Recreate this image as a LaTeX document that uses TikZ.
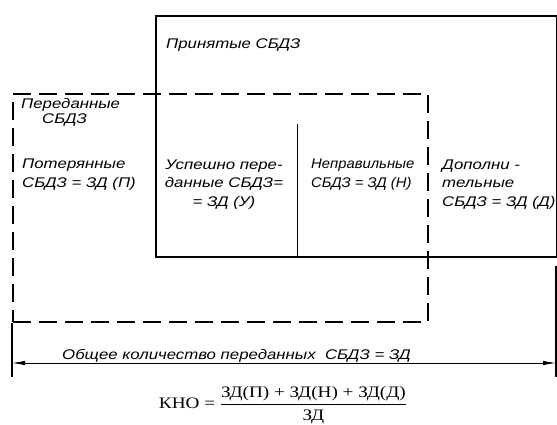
\documentclass[tikz,border=0pt]{standalone}
\usepackage{fontspec}
\usepackage{amsmath}
\usetikzlibrary{arrows.meta,positioning,calc}
\setmainfont{Liberation Serif}
\newfontfamily\gostfont[FakeStretch=1.2]{Liberation Sans}
\newfontfamily\gostuzkij[FakeStretch=1.06]{Liberation Sans}
\newfontfamily\formulafont[FakeStretch=1.2]{Liberation Serif}
\tikzset{
  prinbox/.style={draw, line width=1.5pt, inner sep=0pt, anchor=north west},
  peredbox/.style={draw, line width=1.5pt, inner sep=0pt, anchor=north west,
    dash pattern=on 18pt off 8pt},
  razdel/.style={line width=0.9pt},
  vynos/.style={line width=1.2pt},
  razmer/.style={{Latex[length=13pt, width=4.5pt]}-{Latex[length=13pt, width=4.5pt]}, line width=0.8pt},
  nadpis/.style={font=\gostfont\itshape\fontsize{14}{18.5}\selectfont,
    inner sep=0pt, anchor=base west, align=left},
  nadpisuzk/.style={nadpis, font=\gostuzkij\itshape\fontsize{14}{18.5}\selectfont},
  formula/.style={font=\formulafont\fontsize{16}{19}\selectfont, inner sep=0pt},
}
\begin{document}
\begin{tikzpicture}[x=1pt, y=-1pt]
  \useasboundingbox (0,0) rectangle (557,424);
  % ---- mnozhestva ----
  \node[prinbox, minimum width=401pt, minimum height=241pt] (prin) at (155,15) {};
  \node[peredbox, minimum width=415pt, minimum height=228pt] (pered) at (12,93) {};
  \coordinate (d1) at (297,124);
  \draw[razdel] (d1) -- (d1 |- prin.south);

  % ---- razmernaja linija ----
  \coordinate (vl) at (12,377);
  \coordinate (vr0) at (556,266);
  \coordinate (vr) at (556,377);
  \draw[vynos] (pered.south west) -- (vl);
  \draw[vynos] (vr0) -- (vr);
  \coordinate (dl) at (12,363);
  \coordinate (dr) at (556,363);
  \draw[razmer] (dl) -- (dr);

  % ---- nadpisi (base = poslednjaja stroka) ----
  \node[nadpis] (prinlbl) at (166,48) {Принятые СБДЗ};
  \node[nadpis] (peredlbl) at (21,123) {Переданные\\[-3.5pt]\hspace{21pt}СБДЗ};
  \node[nadpis] (poter) at (22,187) {Потерянные\\СБДЗ = ЗД (П)};
  \node[nadpis, anchor=base, align=center] (uspeh) at (224,206) {Успешно пере-\\данные СБДЗ=\\= ЗД (У)};
  \node[nadpisuzk] (neprav) at (311,187) {Неправильные\\СБДЗ = ЗД (Н)};
  \node[nadpis] (dopoln) at (442,206) {Дополни -\\тельные\\СБДЗ = ЗД (Д)};
  \node[nadpis] (obshch) at (62,359) {Общее количество переданных\ \ СБДЗ = ЗД};

  \node[formula] (kno) at (283,405)
    {КНО = $\displaystyle\frac{\text{ЗД(П) + ЗД(Н) + ЗД(Д)}}{\text{ЗД}}$};
\end{tikzpicture}
\end{document}
